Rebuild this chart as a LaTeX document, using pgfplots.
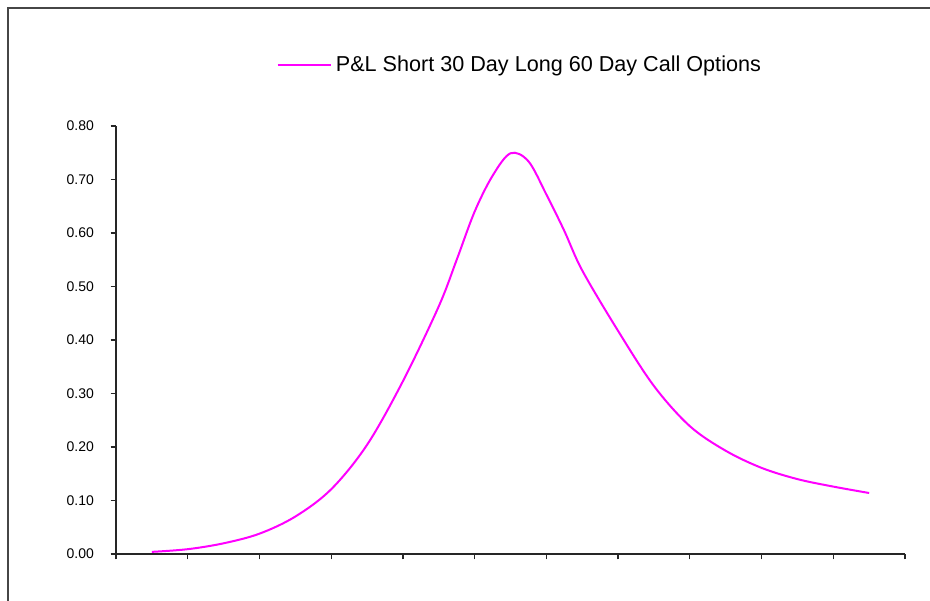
\documentclass[border=0pt]{standalone}
\usepackage{pgfplots}
\pgfplotsset{compat=1.18}
\usepackage{fontspec}
\setmainfont{Liberation Sans}

\definecolor{plmagenta}{RGB}{255,0,255}
\definecolor{framegray}{RGB}{70,70,70}

\begin{document}
\begin{tikzpicture}[x=0.75pt,y=0.75pt]
  \useasboundingbox (0,0) rectangle (930,600);
  \clip (0,0) rectangle (930,600);
  \fill[white] (0,0) rectangle (930,600);
  % chart area frame (runs past the right and bottom edges)
  \draw[framegray, line width=2pt] (8,-20) -- (8,592) -- (950,592);
  \coordinate (plotorigin) at (116,46);
  \begin{axis}[
    at={(plotorigin)}, anchor=south west,
    scale only axis,
    width=591.75pt, height=321pt,
    xmin=0, xmax=11, ymin=0, ymax=0.8,
    axis x line*=bottom, axis y line*=left,
    axis line style={line width=1.3pt, black!85},
    tick align=outside,
    major tick length=4pt,
    tick style={line width=1pt, black!85},
    xtick={0,1,...,11}, xticklabels={},
    ytick={0,0.1,...,0.8},
    yticklabel style={font=\fontsize{10.5}{12}\selectfont, xshift=-9pt},
    /pgf/number format/.cd, fixed, fixed zerofill, precision=2, assume math mode=true,
    /pgfplots/.cd,
    legend style={at={(0.513,1.143)}, anchor=center, draw=none, fill=none,
      font=\fontsize{16.2}{19}\selectfont, inner sep=0pt,
      nodes={inner sep=3pt}},
    legend image code/.code={\draw[#1] (0pt,0pt) -- (40pt,0pt);},
    clip=false,
  ]
    \addplot[plmagenta, line width=1.5pt, smooth, tension=0.55] coordinates {
      (0.5,0.004) (1.0,0.009) (1.5,0.020) (2.0,0.038) (2.5,0.070)
      (3.0,0.121) (3.5,0.204) (4.0,0.323) (4.5,0.463) (4.75,0.550)
      (5.0,0.640) (5.25,0.707) (5.5,0.749) (5.75,0.734) (6.0,0.672)
      (6.25,0.604) (6.5,0.530) (7.0,0.417) (7.5,0.314) (8.0,0.239)
      (8.5,0.193) (9.0,0.161) (9.5,0.140) (10.0,0.126) (10.5,0.114)
    };
    \addlegendentry{P\&L Short 30 Day Long 60 Day Call Options}
  \end{axis}
\end{tikzpicture}
\end{document}
